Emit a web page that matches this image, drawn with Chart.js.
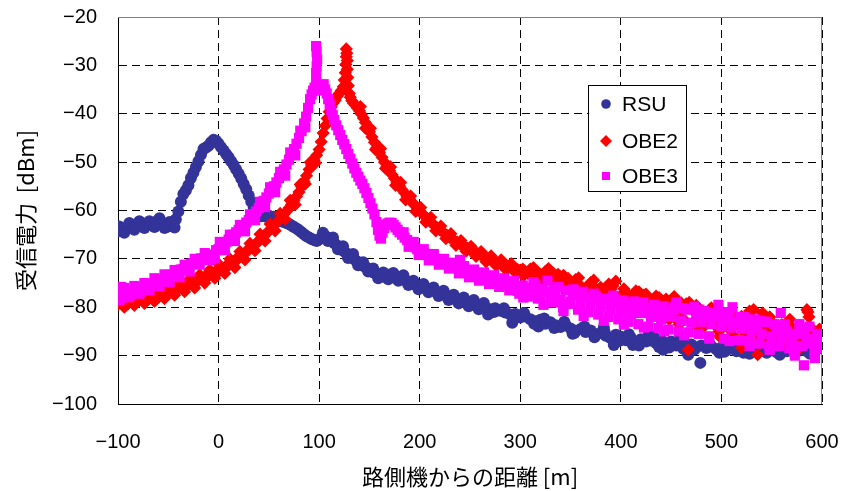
<!DOCTYPE html>
<html>
<head>
<meta charset="utf-8">
<script src="https://cdn.jsdelivr.net/npm/chart.js@4.4.1/dist/chart.umd.min.js"></script>
<style>
html,body{margin:0;padding:0;background:#fff;}
#wrap{width:843px;height:491px;position:relative;}
</style>
</head>
<body>
<div id="wrap"><canvas id="c" width="843" height="491"></canvas></div>
<script>
// ---- data: [distance m, received power dBm] ----
const seriesNames = ['RSU', 'OBE2', 'OBE3'];
const xTicks = [-100, 0, 100, 200, 300, 400, 500, 600];
const yTicks = [-100, -90, -80, -70, -60, -50, -40, -30, -20];

const rsuData = [
[-100,-64.3],[-97.5,-64.0],[-95,-63.6],[-92.5,-63.8],[-90,-63.4],[-87.5,-63.2],[-85,-63.4],[-82.5,-63.0],[-80,-62.8],[-77.5,-63.1],
[-75,-62.7],[-72.5,-62.9],[-70,-63.0],[-67.5,-62.6],[-65,-62.8],[-62.5,-62.4],[-60,-62.0],[-57.5,-62.5],[-55,-62.9],[-52.5,-63.1],
[-50,-63.3],[-47.5,-63.0],[-45,-62.6],[-42.5,-61.8],[-40,-60.2],[-37.5,-58.2],[-35,-56.6],[-32.5,-55.8],[-30,-54.8],[-27.5,-53.3],
[-25,-52.2],[-22.5,-51.0],[-20,-49.8],[-17.5,-48.5],[-15,-47.3],[-12.5,-47.0],[-10,-46.6],[-7.5,-45.9],[-5,-45.4],[-2.5,-45.6],
[0,-46.2],[2.5,-46.9],[5,-47.6],[7.5,-48.3],[10,-49.0],[12.5,-49.8],[15,-50.6],[17.5,-51.5],[20,-52.4],[22.5,-53.4],
[25,-54.5],[27.5,-55.6],[30,-56.9],[32.5,-58.2],[35,-59.4],[37.5,-60.3],[40,-60.9],[42.5,-61.2],[45,-61.0],[47.5,-61.3],
[50,-61.1],[52.5,-61.4],[55,-61.3],[57.5,-61.7],[60,-61.8],[62.5,-62.2],[65,-62.4],[67.5,-62.6],[70,-62.8],[72.5,-63.1],
[75,-63.4],[77.5,-63.7],[80,-64.1],[82.5,-64.5],[85,-64.9],[87.5,-65.3],[90,-65.6],[92.5,-65.9],[95,-66.1],[97.5,-66.3],
[100,-66.0],[102.5,-65.4],[105,-65.1],[107.5,-65.5],[110,-65.9],[112.5,-66.3],[115,-66.7],[117.5,-67.2],[120,-67.7],[122.5,-68.1],
[125,-68.5],[127.5,-68.9],[130,-69.3],[132.5,-69.7],[135,-70.1],[137.5,-70.5],[140,-70.9],[142.5,-71.3],[145,-71.6],[147.5,-71.9],
[150,-72.3],[152.5,-72.6],[155,-72.9],[157.5,-73.2],[160,-73.4],[162.5,-73.6],[165,-73.7],[167.5,-73.4],[170,-73.3],[172.5,-73.5],
[175,-73.6],[177.5,-73.7],[180,-73.9],[182.5,-74.2],[185,-74.4],[187.5,-74.6],[190,-74.9],[192.5,-75.1],[195,-75.3],[197.5,-75.5],
[200,-75.7],[205,-75.9],[210,-76.3],[215,-76.7],[220,-77.0],[225,-77.4],[230,-77.8],[235,-78.1],[240,-78.5],[245,-78.7],
[250,-79.1],[255,-79.3],[260,-79.7],[265,-80.0],[268,-81.5],[270,-80.4],[275,-80.2],[280,-80.7],[285,-81.1],[290,-81.5],
[292,-83.2],[295,-81.4],[300,-82.1],[305,-81.9],[310,-82.5],[315,-82.9],[318,-84.0],[320,-82.6],[325,-83.4],[330,-83.1],
[335,-83.7],[340,-84.1],[345,-83.6],[350,-84.4],[352,-85.5],[355,-84.9],[360,-84.5],[365,-85.1],[370,-84.8],[375,-85.6],
[380,-85.3],[383,-84.2],[385,-85.9],[390,-86.4],[393,-87.8],[395,-85.7],[400,-86.1],[405,-86.8],[410,-86.3],[412,-87.8],
[415,-87.5],[420,-86.6],[425,-87.1],[428,-85.5],[430,-86.9],[435,-87.4],[438,-88.2],[440,-86.7],[442,-88.8],[445,-87.6],
[450,-87.1],[455,-87.9],[460,-87.3],[462,-88.6],[465,-88.1],[467,-89.8],[470,-87.7],[475,-88.3],[479,-91.5],[480,-87.9],
[485,-88.4],[490,-88.1],[495,-88.7],[500,-88.3],[503,-89.2],[505,-88.9],[510,-88.5],[515,-89.1],[520,-88.7],[522,-89.4],
[525,-89.3],[530,-88.8],[535,-89.1],[536,-88.8],[540,-88.6],[545,-89.4],[550,-88.9],[555,-89.3],[560,-88.7],[565,-89.1],
[570,-88.9],[575,-89.2],[580,-88.8],[585,-89.1],[590,-89.0],[595,-88.7],[600,-88.4]
];
const rsuSpread = [
[-98.75,-63.3],[-93.75,-64.6],[-88.75,-62.6],[-83.75,-64.0],[-78.75,-62.2],[-73.75,-63.6],[-68.75,-62.2],[-63.75,-63.4],[-58.75,-61.6],[-53.75,-63.6],
[-48.75,-62.4],[-43.75,-63.5],[103.75,-64.6],[108.75,-66.3],[113.75,-65.6],[118.75,-68.0],[123.75,-67.4],[128.75,-69.8],[133.75,-69.0],[138.75,-71.3],
[143.75,-70.7],[148.75,-72.6],[153.75,-72.0],[158.75,-74.0],[163.75,-72.8],[168.75,-74.2],[173.75,-72.9],[178.75,-74.5],[183.75,-73.4],[188.75,-75.4],
[193.75,-74.5],[198.75,-76.3],[203.75,-75.2],[208.75,-76.9],[213.75,-75.9],[218.75,-77.7],[223.75,-76.6],[228.75,-78.5],[233.75,-77.4],[238.75,-79.2],
[243.75,-78.0],[248.75,-79.8],[253.75,-78.5],[258.75,-80.4],[263.75,-79.1],[273.75,-81.0],[283.75,-80.2],[293.75,-82.3],[303.75,-81.2],[313.75,-83.4],
[323.75,-82.3],[333.75,-84.3],[343.75,-83.0],[353.75,-85.3],[363.75,-84.0],[373.75,-86.2],[383.75,-85.0],[398,-87.0],[408,-85.6],[418,-87.9],
[433,-86.2],[448,-88.3],[458,-86.8],[473,-88.8],[488,-87.5],[498,-89.4],[513,-88.0],[528,-89.6],[543,-88.2],[558,-89.8],
[573,-88.3],[588,-89.6],[598,-88.0]
];

const obe2Data = [
[-100,-79.4],[-97.5,-79.0],[-95,-79.2],[-92.5,-78.8],[-90,-79.3],[-87.5,-78.6],[-85,-78.9],[-82.5,-78.4],[-80,-78.8],[-77.5,-78.2],
[-75,-78.5],[-72.5,-78.0],[-70,-78.4],[-67.5,-77.7],[-65,-78.0],[-62.5,-77.5],[-60,-77.9],[-57.5,-77.2],[-55,-77.5],[-52.5,-76.8],
[-50,-77.1],[-47.5,-76.5],[-45,-76.7],[-42.5,-76.0],[-40,-76.3],[-37.5,-75.7],[-35,-75.9],[-32.5,-75.2],[-30,-75.4],[-27.5,-74.7],
[-25,-75.0],[-22.5,-74.3],[-20,-74.5],[-17.5,-73.8],[-15,-74.1],[-12.5,-73.4],[-10,-73.6],[-7.5,-73.0],[-5,-73.1],[-2.5,-72.5],
[0,-72.7],[2.5,-72.0],[5,-72.1],[7.5,-71.4],[10,-71.4],[12.5,-70.8],[15,-70.7],[17.5,-70.0],[20,-69.9],[22.5,-69.2],
[25,-69.1],[27.5,-68.4],[30,-68.2],[32.5,-67.6],[35,-67.3],[37.5,-66.7],[40,-66.4],[42.5,-65.8],[45,-65.3],[47.5,-64.8],
[50,-64.2],[52.5,-63.7],[55,-63.1],[57.5,-62.6],[60,-62.0],[62.5,-61.4],[65,-60.8],[67.5,-60.2],[70,-59.5],[72.5,-58.8],
[75,-58.0],[77.5,-57.1],[80,-56.2],[82.5,-55.1],[85,-54.0],[87.5,-52.8],[90,-51.5],[92.5,-50.6],[95,-49.6],[97.5,-48.6],
[100,-47.4],[102,-45.8],[104,-44.0],[106,-42.5],[108,-41.0],[110,-39.6],[112,-38.6],[114,-37.8],[116,-37.2],[118,-36.4],
[120,-35.8],[122,-35.2],[124,-34.4],[125,-33.0],[126,-31.5],[126.5,-29.8],[127,-28.2],[127,-26.6],[127.5,-27.5],[128,-29.0],
[128,-30.8],[128.5,-32.5],[129,-34.2],[130,-35.8],[131,-36.6],[132.5,-37.3],[134,-37.8],[136,-38.2],[138,-38.8],[140,-39.4],
[142,-40.1],[144,-40.9],[146,-41.8],[148,-42.8],[150,-43.7],[152.5,-44.8],[155,-45.9],[157.5,-47.0],[160,-48.0],[162.5,-49.0],
[165,-50.0],[167.5,-50.9],[170,-51.8],[172.5,-52.6],[175,-53.4],[177.5,-54.2],[180,-55.0],[182.5,-55.7],[185,-56.4],[187.5,-57.1],
[190,-57.7],[192.5,-58.3],[195,-58.9],[197.5,-59.5],[200,-60.1],[202.5,-60.6],[205,-61.2],[207.5,-61.7],[210,-62.2],[212.5,-62.7],
[215,-63.1],[217.5,-63.6],[220,-64.0],[222.5,-64.4],[225,-64.8],[227.5,-65.2],[230,-65.6],[232.5,-65.9],[235,-66.3],[237.5,-66.6],
[240,-66.9],[242.5,-67.2],[245,-67.5],[247.5,-67.8],[250,-68.1],[252.5,-68.3],[255,-68.6],[257.5,-68.9],[260,-69.1],[262.5,-69.4],
[265,-69.6],[267.5,-69.9],[270,-70.1],[272.5,-70.3],[275,-70.5],[277.5,-70.8],[280,-71.0],[282.5,-71.2],[285,-71.3],[287.5,-71.5],
[290,-71.7],[292.5,-71.9],[295,-72.0],[297.5,-72.2],[300,-72.3],[302.5,-72.1],[305,-72.7],[307.5,-73.0],[310,-72.1],[312.5,-73.4],
[315,-73.6],[317.5,-72.8],[320,-73.2],[322.5,-74.0],[325,-72.6],[327.5,-73.5],[330,-74.0],[332.5,-74.6],[335,-74.4],[337.5,-73.2],
[340,-73.7],[342.5,-75.3],[345,-74.9],[347.5,-74.0],[350,-75.2],[352.5,-75.8],[355,-74.3],[357.5,-76.0],[360,-75.6],[362.5,-76.5],
[365,-76.1],[367.5,-77.3],[370,-74.9],[372,-75.5],[375,-76.5],[377.5,-77.5],[380,-75.9],[382.5,-78.0],[385,-77.1],[387.5,-76.0],
[390,-76.3],[392,-75.6],[395,-74.6],[397.5,-78.3],[400,-77.6],[402.5,-79.0],[405,-76.9],[407.5,-78.2],[410,-77.9],[412.5,-80.0],
[415,-76.6],[417.5,-79.2],[420,-78.1],[423,-77.5],[425,-77.3],[427.5,-80.5],[430,-78.6],[432.5,-79.5],[435,-77.7],[437.5,-81.0],
[440,-79.1],[443,-78.8],[445,-78.3],[447.5,-80.8],[450,-79.6],[452.5,-82.0],[455,-78.9],[457.5,-81.2],[460,-79.1],[462.5,-82.5],
[465,-79.3],[467,-88.8],[470,-80.4],[472.5,-83.0],[475,-79.6],[477.5,-82.0],[480,-80.9],[482.5,-84.0],[485,-81.6],[487.5,-82.8],
[490,-80.1],[492.5,-83.5],[495,-81.9],[497.5,-85.0],[500,-80.9],[502.5,-83.2],[505,-82.3],[507.5,-84.5],[510,-81.6],[512.5,-86.0],
[515,-82.6],[517.5,-84.0],[520,-81.9],[520,-88.4],[522.5,-85.2],[525,-83.1],[527.5,-86.5],[530,-82.4],[532,-80.5],[535,-83.6],
[536,-89.8],[537.5,-85.8],[540,-82.1],[541,-81.2],[542.5,-86.8],[545,-84.1],[547.5,-85.0],[550,-83.1],[552.5,-87.0],[555,-84.6],
[557.5,-86.0],[560,-83.6],[562.5,-87.5],[565,-85.1],[567.5,-84.0],[570,-84.1],[572.5,-87.0],[575,-85.6],[577.5,-83.8],[580,-84.6],
[582.5,-86.5],[585,-80.5],[586,-81.0],[587,-82.0],[590,-85.6],[592.5,-87.8],[595,-86.3],[597.5,-84.5],[600,-85.6]
];
const obe2Spread = [
[-98.75,-78.0],[-93.75,-80.0],[-88.75,-77.8],[-83.75,-79.6],[-78.75,-77.3],[-73.75,-79.2],[-68.75,-76.9],[-63.75,-78.8],[-58.75,-76.4],[-53.75,-78.2],
[-48.75,-75.8],[-43.75,-77.5],[-38.75,-75.0],[-33.75,-76.8],[-28.75,-74.2],[-23.75,-76.0],[-18.75,-73.3],[-13.75,-75.0],[-8.75,-72.3],[-3.75,-74.0],
[1.25,-71.3],[6.25,-73.0],[11.25,-70.0],[16.25,-71.8],[21.25,-68.5],[26.25,-70.2],[31.25,-66.8],[36.25,-68.3],[41.25,-64.9],[46.25,-66.3],
[51.25,-62.8],[56.25,-64.2],[61.25,-60.6],[66.25,-61.8],[71.25,-57.9],[76.25,-58.8],[81.25,-54.6],[86.25,-54.5],[91.25,-50.0],[96.25,-50.2],
[141,-38.5],[146,-43.0],[151,-43.0],[156,-47.4],[161,-47.2],[166,-51.3],[171,-51.0],[176,-54.8],[181,-54.2],[186,-57.8],
[191,-57.0],[196,-60.2],[201,-59.4],[206,-62.4],[211,-61.4],[216,-64.2],[221,-63.2],[226,-65.8],[231,-64.8],[236,-67.2],
[241,-66.2],[246,-68.4],[251,-67.4],[256,-69.5],[261,-68.5],[266,-70.6],[271,-69.4],[276,-71.4],[281,-70.2],[286,-72.3],
[291,-71.0],[296,-73.0],[303,-73.5],[313,-71.8],[318,-74.5],[328,-72.0],[333,-73.0],[343,-73.4],[348,-76.2],[358,-73.9],
[363,-77.5],[373,-74.4],[378,-78.5],[388,-75.2],[393,-79.0],[403,-76.2],[408,-80.3],[418,-76.8],[428,-81.5],[438,-78.0],
[448,-82.5],[453,-77.8],[458,-83.5],[468,-79.0],[478,-84.5],[488,-80.5],[498,-86.0],[508,-81.0],[518,-87.0],[528,-80.8],
[538,-87.5],[548,-82.0],[558,-88.0],[568,-82.5],[578,-88.5],[588,-84.0],[598,-88.2]
];

const obe3Data = [
[-100,-77.6],[-98.5,-76.2],[-97,-75.8],[-95,-78.0],[-92.5,-77.0],[-90,-76.6],[-87.5,-77.3],[-85,-77.1],[-82.5,-76.2],[-80,-75.9],
[-77.5,-76.7],[-75,-76.4],[-72.5,-75.6],[-70,-75.7],[-67.5,-75.3],[-65,-75.1],[-62.5,-74.6],[-60,-74.9],[-57.5,-74.3],[-55,-74.3],
[-52.5,-73.7],[-50,-73.9],[-47.5,-73.3],[-45,-73.3],[-42.5,-72.8],[-40,-72.7],[-37.5,-72.2],[-35,-72.1],[-32.5,-71.6],[-30,-71.6],
[-27.5,-71.0],[-25,-70.9],[-22.5,-70.5],[-20,-70.3],[-17.5,-69.9],[-15,-69.9],[-12.5,-69.5],[-10,-69.4],[-7.5,-69.2],[-5,-69.1],
[-2.5,-68.2],[0,-68.0],[2.5,-67.5],[5,-67.0],[7.5,-66.5],[10,-66.0],[12.5,-65.5],[15,-65.0],[17.5,-64.5],[20,-64.0],
[22.5,-63.5],[25,-63.0],[27.5,-62.5],[30,-62.0],[32.5,-61.4],[35,-60.8],[37.5,-60.2],[40,-59.5],[42.5,-58.8],[45,-58.0],
[47.5,-57.3],[50,-56.5],[52.5,-55.8],[55,-55.0],[57.5,-54.2],[60,-53.3],[62.5,-52.4],[65,-51.5],[67.5,-50.5],[70,-49.5],
[72.5,-48.4],[75,-47.3],[77.5,-46.2],[80,-45.0],[82.5,-43.6],[85,-42.0],[87,-40.6],[89,-38.8],[91,-37.0],[92.5,-36.0],
[94,-35.2],[95.5,-34.6],[97,-33.2],[97,-31.6],[97.5,-30.2],[98,-28.8],[97.5,-27.2],[97,-26.0],[98.5,-34.2],[100,-35.2],
[101.5,-34.0],[103,-34.6],[104.5,-33.9],[106,-35.0],[107.5,-35.8],[109,-37.0],[110.5,-38.2],[112,-39.3],[113.5,-40.3],[115,-41.3],
[117,-42.4],[119,-43.4],[121,-44.4],[123,-45.4],[125,-46.3],[127,-47.3],[129,-48.3],[131,-49.3],[133,-50.3],[135,-51.3],
[137,-52.2],[139,-53.0],[141,-53.8],[143,-54.5],[145,-55.4],[147,-56.4],[149,-57.4],[151,-58.5],[153,-59.6],[155,-60.8],
[157,-62.4],[158.5,-64.0],[160,-65.2],[161.5,-65.8],[163,-64.6],[164.5,-63.6],[166,-63.0],[168,-62.7],[170,-62.5],[172,-62.6],
[174,-63.0],[176,-63.5],[178,-64.0],[180,-64.5],[182.5,-65.0],[185,-65.6],[187.5,-66.1],[190,-66.6],[192.5,-67.1],[195,-67.6],
[197.5,-68.0],[200,-68.3],[202.5,-68.6],[205,-68.9],[207.5,-69.2],[210,-69.5],[212.5,-69.8],[215,-70.0],[217.5,-70.2],[220,-70.4],
[222.5,-70.6],[225,-70.8],[227.5,-71.0],[230,-71.2],[232.5,-71.4],[235,-71.6],[237.5,-71.8],[240,-72.0],[240,-70.2],[242.5,-72.2],
[245,-72.4],[247.5,-72.6],[250,-72.8],[252.5,-73.0],[255,-73.2],[257.5,-73.3],[260,-73.5],[262.5,-73.7],[265,-73.8],[267.5,-74.0],
[270,-74.2],[272.5,-74.3],[275,-74.5],[277.5,-74.7],[280,-74.8],[282.5,-75.0],[285,-75.2],[287.5,-75.4],[290,-75.6],[292.5,-75.0],
[295,-75.8],[297.5,-76.6],[300,-76.5],[302.5,-75.5],[305,-76.0],[307.5,-77.8],[310,-77.2],[312.5,-76.0],[315,-75.3],[317.5,-78.2],
[320,-77.5],[322.5,-76.2],[325,-76.8],[327,-74.5],[330,-78.0],[332.5,-79.0],[335,-77.0],[337.5,-75.8],[340,-78.5],[342.5,-80.0],
[345,-76.5],[347.5,-79.3],[350,-78.8],[352.5,-77.0],[355,-77.5],[357.5,-80.5],[360,-79.2],[362.5,-76.8],[365,-78.0],[367.5,-81.0],
[370,-79.5],[372.5,-78.0],[375,-77.8],[377.5,-81.5],[380,-80.0],[382.5,-78.2],[385,-78.5],[387.5,-82.0],[390,-80.5],[392.5,-77.6],
[395,-79.0],[397.5,-82.5],[400,-81.0],[402.5,-78.6],[405,-79.5],[407.5,-83.0],[410,-81.5],[412.5,-79.2],[415,-79.8],[417.5,-83.5],
[420,-81.2],[422.5,-79.0],[425,-80.5],[427.5,-84.0],[430,-82.0],[432.5,-80.0],[435,-80.8],[437.5,-84.3],[440,-82.5],[442.5,-79.8],
[445,-81.0],[447.5,-84.6],[450,-82.0],[452.5,-80.5],[455,-79.0],[457.5,-85.0],[460,-82.8],[462.5,-80.2],[465,-80.5],[467.5,-85.2],
[470,-83.2],[473,-79.9],[475,-81.5],[477.5,-85.5],[480,-83.0],[482.5,-80.8],[485,-81.8],[487.5,-86.0],[490,-83.5],[492.5,-81.2],
[495,-82.0],[497,-79.5],[500,-84.0],[502.5,-86.5],[505,-82.5],[507.5,-81.0],[510,-84.2],[511,-80.0],[515,-83.0],[517.5,-86.8],
[520,-84.5],[522.5,-82.0],[525,-83.5],[527.5,-87.0],[530,-85.0],[532.5,-82.5],[535,-84.0],[537.5,-87.5],[540,-85.5],[542.5,-83.0],
[545,-83.0],[547.5,-88.0],[550,-86.0],[552.5,-83.5],[555,-84.5],[557.5,-88.0],[559,-81.2],[560,-86.5],[562.5,-84.0],[565,-85.0],
[567.5,-88.5],[570,-87.0],[572,-89.0],[575,-85.5],[577.5,-83.5],[580,-88.0],[582,-92.0],[585,-86.5],[587.5,-84.0],[590,-87.5],
[592.5,-89.5],[595,-85.5],[597.5,-88.5],[600,-88.0]
];
const obe3Spread = [
[-98.75,-78.6],[-93.75,-76.0],[-88.75,-77.9],[-83.75,-75.6],[-78.75,-77.2],[-73.75,-75.0],[-68.75,-76.5],[-63.75,-74.0],[-58.75,-75.6],[-53.75,-73.2],
[-48.75,-74.8],[-43.75,-72.3],[-38.75,-73.8],[-33.75,-71.2],[-28.75,-72.6],[-23.75,-70.0],[-18.75,-71.2],[-13.75,-68.8],[-8.75,-70.3],[-3.75,-69.8],
[1.25,-66.5],[6.25,-68.2],[11.25,-65.0],[16.25,-66.3],[21.25,-63.0],[26.25,-64.3],[31.25,-60.8],[36.25,-62.0],[41.25,-58.2],[46.25,-59.3],
[51.25,-55.2],[56.25,-56.2],[61.25,-52.0],[66.25,-52.8],[71.25,-48.0],[76.25,-48.6],[81.25,-43.5],[86.25,-42.8],
[184,-64.5],[189,-67.5],[194,-66.5],[199,-69.2],[204,-68.0],[209,-70.3],[214,-69.0],[219,-71.2],[224,-70.0],[229,-72.0],
[234,-70.8],[239,-73.0],[244,-71.5],[249,-73.8],[254,-72.2],[259,-74.5],[264,-72.8],[269,-75.2],[274,-73.4],[279,-75.8],
[284,-74.0],[289,-76.5],[294,-74.5],[299,-77.2],[303,-78.0],[313,-74.8],[323,-79.5],[333,-76.0],[343,-80.8],[353,-76.3],
[363,-81.8],[373,-77.2],[383,-82.8],[393,-78.3],[403,-83.6],[413,-78.8],[423,-84.2],[433,-79.5],[443,-85.0],[453,-80.0],
[463,-85.8],[478,-80.5],[488,-86.5],[498,-81.5],[508,-87.0],[518,-82.0],[528,-88.0],[538,-82.8],[548,-88.8],[563,-83.5],
[573,-90.0],[583,-84.5],[593,-90.5],[599,-86.0]
];

function pts(a, b) { return a.concat(b).map(r => ({ x: r[0], y: r[1] })); }

const colors = ['#333399', '#ff0000', '#ff00ff'];
const styles = ['circle', 'rectRot', 'rect'];
const radii = [6.0, 6.6, 7.2];

const frame = {
  id: 'frame',
  beforeDatasetsDraw(chart) {
    const { ctx, chartArea: a } = chart;
    ctx.save();
    ctx.strokeStyle = '#808080';
    ctx.lineWidth = 1;
    ctx.beginPath();
    ctx.moveTo(a.left, a.top + 0.5); ctx.lineTo(a.right, a.top + 0.5);
    ctx.moveTo(a.right - 0.5, a.top); ctx.lineTo(a.right - 0.5, a.bottom);
    ctx.stroke();
    ctx.restore();
  },
  afterDraw(chart) {
    const { ctx } = chart;
    ctx.save();
    const bx = 588.5, by = 85.5, bw = 98, bh = 106;
    ctx.fillStyle = '#fff';
    ctx.fillRect(bx, by, bw, bh);
    ctx.strokeStyle = '#000';
    ctx.lineWidth = 1;
    ctx.strokeRect(bx, by, bw, bh);
    const rowY = [104, 141, 176];
    ctx.font = '21px "Liberation Sans", Arial, sans-serif';
    ctx.textBaseline = 'middle';
    ctx.textAlign = 'left';
    for (let i = 0; i < 3; i++) {
      const mx = 606, my = rowY[i];
      ctx.fillStyle = colors[i];
      ctx.beginPath();
      if (i === 0) { ctx.arc(mx, my, 4.8, 0, Math.PI * 2); }
      else if (i === 1) { ctx.moveTo(mx - 6, my); ctx.lineTo(mx, my - 6); ctx.lineTo(mx + 6, my); ctx.lineTo(mx, my + 6); ctx.closePath(); }
      else { ctx.rect(mx - 4, my - 4, 8, 8); }
      ctx.fill();
      ctx.fillStyle = '#000';
      ctx.fillText(seriesNames[i], 622, my + 1);
    }
    ctx.restore();
  }
};

const tickFont = { family: '"Liberation Sans", Arial, sans-serif', size: 20 };
const titleFont = { family: '"Noto Sans CJK JP", sans-serif', size: 22 };
const minus = v => String(v).replace('-', '\u2212');
const noPad = s => { s.paddingTop = 0; s.paddingBottom = 0; s.paddingLeft = 0; s.paddingRight = 0; };

new Chart(document.getElementById('c'), {
  type: 'scatter',
  data: {
    datasets: [
      { label: seriesNames[0], data: pts(rsuData, rsuSpread), order: 3 },
      { label: seriesNames[1], data: pts(obe2Data, obe2Spread), order: 2 },
      { label: seriesNames[2], data: pts(obe3Data, obe3Spread), order: 1 }
    ].map((d, i) => Object.assign(d, {
      pointStyle: styles[i], pointRadius: radii[i], pointHoverRadius: radii[i],
      backgroundColor: colors[i], borderColor: colors[i], borderWidth: 0, showLine: false
    }))
  },
  options: {
    responsive: false,
    animation: false,
    events: [],
    layout: { padding: { left: 12, top: 17, right: 21, bottom: 1 } },
    plugins: { legend: { display: false }, tooltip: { enabled: false } },
    scales: {
      x: {
        type: 'linear', min: -100, max: 600,
        afterBuildTicks: s => { s.ticks = xTicks.map(v => ({ value: v })); },
        afterFit: s => { s.height = 86; noPad(s); },
        grid: { color: '#000', lineWidth: 1, drawTicks: false },
        border: { display: true, color: '#000', width: 1, dash: [8, 5] },
        ticks: { color: '#000', font: tickFont, padding: 26, maxRotation: 0, callback: minus },
        title: { display: true, text: '路側機からの距離 [m]', color: '#000', font: titleFont, padding: { top: 0, bottom: 0 } }
      },
      y: {
        type: 'linear', min: -100, max: -20,
        afterBuildTicks: s => { s.ticks = yTicks.map(v => ({ value: v })); },
        afterFit: s => { s.width = 106; noPad(s); },
        grid: { color: '#000', lineWidth: 1, drawTicks: false },
        border: { display: true, color: '#000', width: 1, dash: [8, 5] },
        ticks: { color: '#000', font: tickFont, padding: 21, callback: minus },
        title: { display: true, text: '受信電力  [dBm]', color: '#000', font: titleFont, padding: { top: 0, bottom: 0 } }
      }
    }
  },
  plugins: [frame]
});
</script>
</body>
</html>
